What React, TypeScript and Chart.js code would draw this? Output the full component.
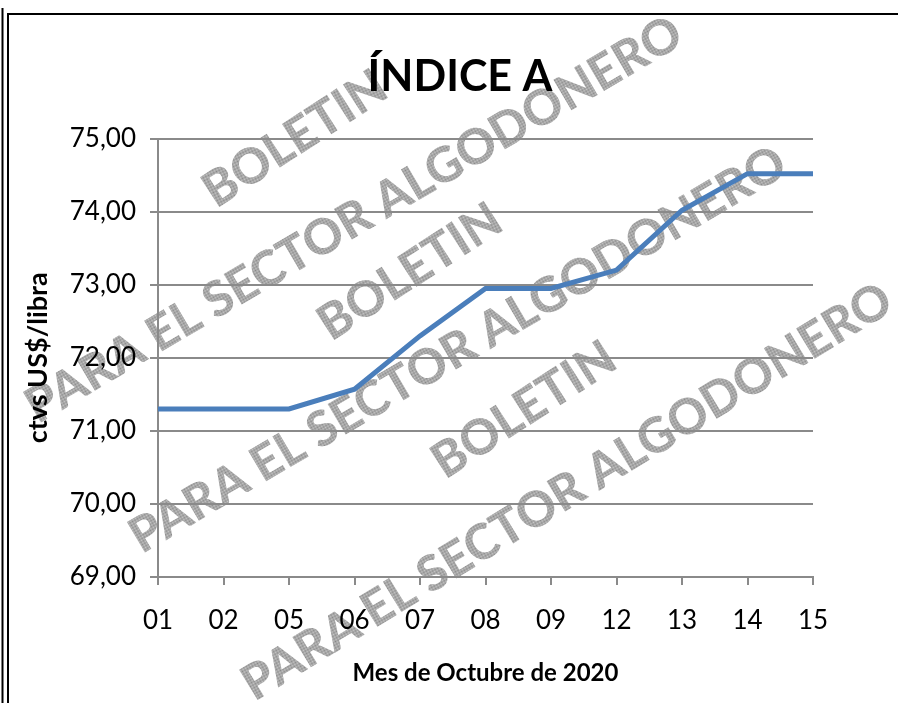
import React, { useEffect, useRef } from "react";
import { Chart, registerables } from "chart.js";

Chart.register(...registerables);

const categories: string[] = ["01", "02", "05", "06", "07", "08", "09", "12", "13", "14", "15"];
const indiceA: number[] = [71.3, 71.3, 71.3, 71.57, 72.3, 72.95, 72.95, 73.2, 74.02, 74.52, 74.52];
const yMin = 69;
const yMax = 75;
const yStep = 1;

const chartTitle = "ÍNDICE A";
const xTitle = "Mes de Octubre de 2020";
const yTitle = "ctvs US$/libra";
const watermarkA = "BOLETIN";
const watermarkB = "PARA EL SECTOR ALGODONERO";

const FONT = "Lato, 'Open Sans', sans-serif";
const GRAY = "#8a8a8a";

const watermarkPlugin = {
  id: "watermark",
  beforeDraw(chart: any) {
    const ctx: CanvasRenderingContext2D = chart.ctx;
    const pc = document.createElement("canvas");
    pc.width = 2;
    pc.height = 2;
    const p = pc.getContext("2d")!;
    p.fillStyle = "#c8c8c8";
    p.fillRect(0, 0, 2, 2);
    p.fillStyle = "#888888";
    p.fillRect(0, 0, 1, 1);
    p.fillRect(1, 1, 1, 1);
    const pattern = ctx.createPattern(pc, "repeat")!;
    const items: [string, number, number, number][] = [
      [watermarkA, 295, 139, -33],
      [watermarkB, 354, 220, -30.5],
      [watermarkA, 410, 272, -33],
      [watermarkB, 458, 350, -30.5],
      [watermarkA, 524, 410, -33],
      [watermarkB, 567, 492, -31.5],
    ];
    ctx.save();
    ctx.fillStyle = "#ffffff";
    ctx.fillRect(0, 0, chart.width, chart.height);
    ctx.font = "900 49px Lato, 'Liberation Sans', sans-serif";
    ctx.textAlign = "center";
    ctx.textBaseline = "middle";
    for (const [t, x, y, a] of items) {
      ctx.save();
      ctx.translate(x, y);
      ctx.rotate((a * Math.PI) / 180);
      ctx.fillStyle = pattern;
      ctx.fillText(t, 0, 0);
      ctx.restore();
    }
    ctx.restore();
  },
  afterDraw(chart: any) {
    const ctx: CanvasRenderingContext2D = chart.ctx;
    ctx.save();
    ctx.strokeStyle = "#000000";
    ctx.lineWidth = 2;
    ctx.beginPath();
    ctx.moveTo(2.5, 8);
    ctx.lineTo(2.5, chart.height);
    ctx.moveTo(8, 14);
    ctx.lineTo(8, chart.height);
    ctx.moveTo(7, 14);
    ctx.lineTo(chart.width, 14);
    ctx.stroke();
    ctx.restore();
  },
};

export default function App() {
  const ref = useRef<HTMLCanvasElement | null>(null);
  useEffect(() => {
    if (!ref.current) return;
    const chart = new Chart(ref.current, {
      type: "line",
      data: {
        labels: categories,
        datasets: [
          {
            label: chartTitle,
            data: indiceA,
            borderColor: "#4a7ebb",
            backgroundColor: "#4a7ebb",
            borderWidth: 5,
            pointRadius: 0,
            tension: 0,
            fill: false,
          },
        ],
      },
      plugins: [watermarkPlugin],
      options: {
        animation: false,
        responsive: false,
        devicePixelRatio: 1,
        layout: { padding: { left: 22, right: 0, top: 0, bottom: 0 } },
        plugins: {
          legend: { display: false },
          tooltip: { enabled: false },
          title: {
            display: true,
            text: chartTitle,
            color: "#000000",
            font: { family: FONT, size: 43, weight: "bold" },
            padding: { top: 51, bottom: 36 },
          },
        },
        scales: {
          x: {
            type: "category",
            offset: false,
            afterFit: (s: any) => {
              s.height = 126;
              s.paddingRight = 85;
            },
            grid: {
              display: true,
              drawOnChartArea: false,
              drawTicks: true,
              tickLength: 8,
              color: GRAY,
              lineWidth: 2,
            },
            border: { display: true, color: GRAY, width: 2 },
            ticks: {
              color: "#000000",
              font: { family: FONT, size: 26 },
              padding: 20,
              maxRotation: 0,
              autoSkip: false,
            },
            title: {
              display: true,
              text: xTitle,
              color: "#000000",
              font: { family: FONT, size: 24, weight: "bold" },
              padding: { top: 0, bottom: 15 },
            },
          },
          y: {
            type: "linear",
            position: "left",
            min: yMin,
            max: yMax,
            afterFit: (s: any) => {
              s.width = 136;
            },
            grid: {
              display: true,
              drawOnChartArea: true,
              drawTicks: true,
              tickLength: 8,
              color: GRAY,
              lineWidth: 2,
            },
            border: { display: true, color: GRAY, width: 2 },
            ticks: {
              stepSize: yStep,
              color: "#000000",
              font: { family: FONT, size: 26 },
              padding: 14,
              callback: (v: any) => Number(v).toFixed(2).replace(".", ","),
            },
            title: {
              display: true,
              text: yTitle,
              color: "#000000",
              font: { family: FONT, size: 27, weight: "bold" },
              padding: { top: 0, bottom: 0 },
            },
          },
        },
      } as any,
    });
    return () => chart.destroy();
  }, []);
  return (
    <div style={{ position: "absolute", left: 0, top: 0, width: 898, height: 703, background: "#fff" }}>
      <canvas ref={ref} width={898} height={703} style={{ display: "block", width: 898, height: 703 }} />
    </div>
  );
}
